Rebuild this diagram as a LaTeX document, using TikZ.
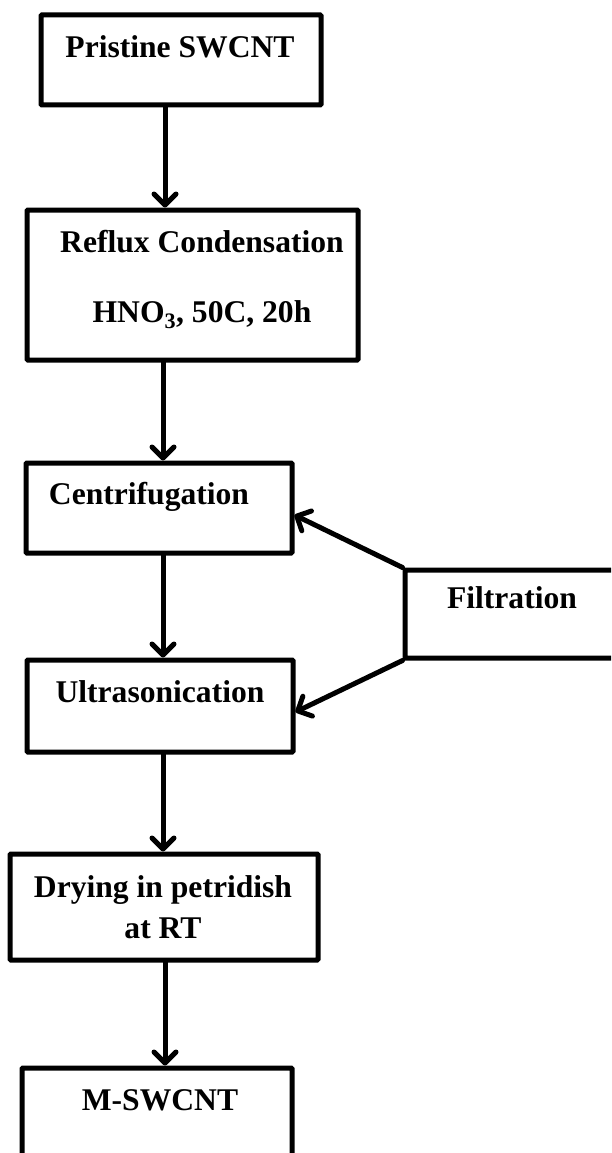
\documentclass[tikz,border=0pt]{standalone}
\usepackage{fontspec}
\setmainfont{Liberation Serif}
\usetikzlibrary{arrows.meta}
\begin{document}
\begin{tikzpicture}[x=1pt,y=-1pt,
  box/.style={draw=black,line width=5pt,rounded corners=1pt,minimum width=#1,inner sep=0pt},
  lbl/.style={anchor=base,font=\fontsize{31.6}{38}\selectfont\bfseries,inner sep=0pt},
  arr/.style={draw=black,line width=5pt,line cap=round,-{Straight Barb[length=11pt,width=22pt,line cap=round,line join=round]}}]
\useasboundingbox (0,0) rectangle (611,1153);
\clip (0,0) rectangle (611,1153);
% boxes
\node[box=280pt,minimum height=90pt] (b1) at (181,60) {};
\node[box=331pt,minimum height=150pt] (b2) at (192.5,285) {};
\node[box=266pt,minimum height=90pt] (b3) at (159,508) {};
\node[box=266pt,minimum height=92pt] (b4) at (160,706) {};
\node[box=308pt,minimum height=106pt] (b5) at (164,907) {};
\node[box=270pt,minimum height=180pt] (b6) at (157,1158) {};
\node[box=260pt,minimum height=88pt] (f) at (535,614) {};
% texts
\node[lbl] (t1) at (180,58) {Pristine SWCNT};
\node[lbl] (t2a) at (202,252) {Reflux Condensation};
\node[lbl] (t2b) at (202,322) {HNO\textsubscript{3}, 50C, 20h};
\node[lbl] (t3) at (149,504) {Centrifugation};
\node[lbl] (t4) at (160,702) {Ultrasonication};
\node[lbl] (t5a) at (163,897) {Drying in petridish};
\node[lbl] (t5b) at (163,938) {at RT};
\node[lbl] (t6) at (160,1110) {M-SWCNT};
\node[lbl] (tf) at (512,608) {Filtration};
% connectors
\draw[arr] ([xshift=-16pt]b1.south) -- ([xshift=-27.5pt]b2.north);
\draw[arr] ([xshift=-29.5pt]b2.south) -- ([xshift=4pt]b3.north);
\draw[arr] ([xshift=4pt]b3.south) -- ([xshift=3pt]b4.north);
\draw[arr] ([xshift=3pt]b4.south) -- ([xshift=-1pt]b5.north);
\draw[arr] ([xshift=1pt]b5.south) -- ([xshift=8pt]b6.north);
\draw[arr] (f.north west) -- ([yshift=-7pt]b3.east);
\draw[arr] (f.south west) -- ([yshift=-6pt]b4.east);
\end{tikzpicture}
\end{document}
